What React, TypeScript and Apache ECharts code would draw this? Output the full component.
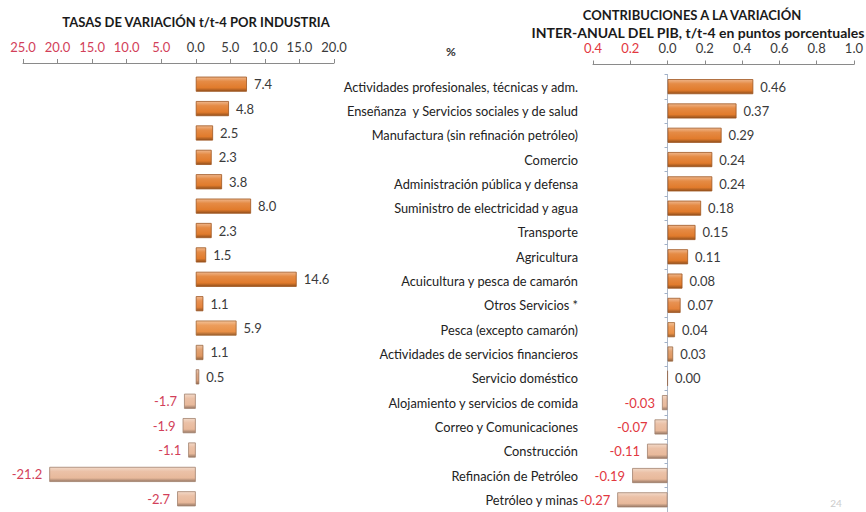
import React, { useEffect, useRef } from "react";
import * as echarts from "echarts";

// ---------- data ----------
const categories = [
  "Actividades profesionales, técnicas y adm.",
  "Enseñanza  y Servicios sociales y de salud",
  "Manufactura (sin refinación petróleo)",
  "Comercio",
  "Administración pública y defensa",
  "Suministro de electricidad y agua",
  "Transporte",
  "Agricultura",
  "Acuicultura y pesca de camarón",
  "Otros Servicios *",
  "Pesca (excepto camarón)",
  "Actividades de servicios financieros",
  "Servicio doméstico",
  "Alojamiento y servicios de comida",
  "Correo y Comunicaciones",
  "Construcción",
  "Refinación de Petróleo",
  "Petróleo y minas",
];

const growthRates = [7.4, 4.8, 2.5, 2.3, 3.8, 8.0, 2.3, 1.5, 14.6, 1.1, 5.9, 1.1, 0.5, -1.7, -1.9, -1.1, -21.2, -2.7];
const contributions = [0.46, 0.37, 0.29, 0.24, 0.24, 0.18, 0.15, 0.11, 0.08, 0.07, 0.04, 0.03, 0.0, -0.03, -0.07, -0.11, -0.19, -0.27];

const leftAxisMin = -25;
const leftAxisMax = 20;
const leftAxisStep = 5;
const rightAxisMin = -0.4;
const rightAxisMax = 1.0;
const rightAxisStep = 0.2;

const leftTitle = "TASAS DE VARIACIÓN t/t-4 POR INDUSTRIA";
const rightTitle1 = "CONTRIBUCIONES A LA VARIACIÓN";
const rightTitle2 = "INTER-ANUAL DEL PIB, t/t-4 en puntos porcentuales";
const midLabel = "%";
const pageNumber = "24";

// ---------- styles ----------
const rowColors = [
  "#E17B2C", "#E17B2C", "#E17B2C", "#E17B2C", "#E17B2C", "#E17B2C",
  "#E17B2C", "#E17B2C", "#E17B2C", "#E4823A", "#E99046", "#DE9660",
  "#DA9E78", "#E8B99B", "#E8B99B", "#E8B99B", "#E8B99B", "#E8B99B",
];
const FONT = "Lato, 'Open Sans', sans-serif";
const NEG_RED_L = "#D23F5A";
const NEG_RED_R = "#E2383F";
const TEXT = "#3a3a3a";

function mix(hex: string, target: number, t: number) {
  const n = parseInt(hex.slice(1), 16);
  const r = (n >> 16) & 255, g = (n >> 8) & 255, b = n & 255;
  const f = (c: number) => Math.round(c + (target - c) * t);
  return `rgb(${f(r)},${f(g)},${f(b)})`;
}

function barFill(hex: string) {
  return new echarts.graphic.LinearGradient(0, 0, 0, 1, [
    { offset: 0, color: mix(hex, 255, 0.45) },
    { offset: 0.3, color: mix(hex, 255, 0.12) },
    { offset: 0.75, color: hex },
    { offset: 1, color: mix(hex, 0, 0.35) },
  ]);
}

function makeData(values: number[], negColor: string) {
  return values.map((v, i) => ({
    value: v,
    itemStyle: {
      color: barFill(rowColors[i]),
      borderColor: mix(rowColors[i], 0, 0.3),
      borderWidth: 0.8,
    },
    label: {
      position: v < 0 ? "left" : "right",
      color: v < 0 ? negColor : TEXT,
    },
  }));
}

export default function App() {
  const ref = useRef<HTMLDivElement>(null);

  useEffect(() => {
    if (!ref.current) return;
    const chart = echarts.init(ref.current, undefined, { renderer: "svg" });

    const axisLabelCommon = {
      fontFamily: FONT,
      fontSize: 13,
      margin: 10,
    };

    chart.setOption({
      animation: false,
      backgroundColor: "#ffffff",
      grid: [
        { left: 23, width: 311, top: 72, height: 439 },
        { left: 593, width: 261, top: 74.5, height: 444 },
      ],
      xAxis: [
        {
          type: "value",
          gridIndex: 0,
          position: "top",
          offset: 9,
          min: leftAxisMin,
          max: leftAxisMax,
          interval: leftAxisStep,
          splitLine: { show: false },
          axisLine: { show: true, lineStyle: { color: "#8a8a8a", width: 1 } },
          axisTick: { show: true, length: 4, lineStyle: { color: "#8a8a8a" } },
          axisLabel: {
            ...axisLabelCommon,
            formatter: (v: number) => Math.abs(v).toFixed(1),
            color: (v: number) => (Number(v) < 0 ? NEG_RED_L : TEXT),
          },
        },
        {
          type: "value",
          gridIndex: 1,
          position: "top",
          offset: 10,
          min: rightAxisMin,
          max: rightAxisMax,
          interval: rightAxisStep,
          splitLine: { show: false },
          axisLine: { show: true, lineStyle: { color: "#8a8a8a", width: 1 } },
          axisTick: { show: true, length: 4, lineStyle: { color: "#8a8a8a" } },
          axisLabel: {
            ...axisLabelCommon,
            formatter: (v: number) => Math.abs(v).toFixed(1),
            color: (v: number) => (Number(v) < -1e-9 ? NEG_RED_R : TEXT),
          },
        },
      ],
      yAxis: [
        {
          type: "category",
          gridIndex: 0,
          inverse: true,
          data: categories,
          axisLine: { show: false },
          axisTick: { show: false },
          axisLabel: { show: false },
          splitLine: { show: false },
        },
        {
          type: "category",
          gridIndex: 1,
          inverse: true,
          data: categories,
          axisLine: { show: true, onZero: true, lineStyle: { color: "#AEB8C8", width: 1 } },
          axisTick: { show: true, length: 3, lineStyle: { color: "#9FB0C8" } },
          axisLabel: {
            show: true,
            margin: 15,
            fontFamily: FONT,
            fontSize: 12.8,
            color: "#222222",
          },
          splitLine: { show: false },
        },
      ],
      series: [
        {
          type: "bar",
          xAxisIndex: 0,
          yAxisIndex: 0,
          barCategoryGap: "38%",
          data: makeData(growthRates, NEG_RED_L),
          label: {
            show: true,
            distance: 7,
            fontFamily: FONT,
            fontSize: 13,
            formatter: (p: any) => Number(p.value).toFixed(1),
          },
        },
        {
          type: "bar",
          xAxisIndex: 1,
          yAxisIndex: 1,
          barCategoryGap: "38%",
          data: makeData(contributions, NEG_RED_R),
          label: {
            show: true,
            distance: 7,
            fontFamily: FONT,
            fontSize: 13,
            formatter: (p: any) => Number(p.value).toFixed(2),
          },
        },
      ],
      graphic: [
        {
          type: "text",
          x: 196,
          y: 22,
          style: {
            text: leftTitle,
            align: "center",
            verticalAlign: "middle",
            fontFamily: FONT,
            fontSize: 13,
            fontWeight: "bold",
            fill: "#1a1a1a",
          },
        },
        {
          type: "text",
          x: 692,
          y: 15,
          style: {
            text: rightTitle1,
            align: "center",
            verticalAlign: "middle",
            fontFamily: FONT,
            fontSize: 13,
            fontWeight: "bold",
            fill: "#1a1a1a",
          },
        },
        {
          type: "text",
          x: 698,
          y: 32,
          style: {
            text: rightTitle2,
            align: "center",
            verticalAlign: "middle",
            fontFamily: FONT,
            fontSize: 14,
            fontWeight: "bold",
            fill: "#1a1a1a",
          },
        },
        {
          type: "text",
          x: 451,
          y: 51,
          style: {
            text: midLabel,
            align: "center",
            verticalAlign: "middle",
            fontFamily: FONT,
            fontSize: 12,
            fontWeight: "bold",
            fill: "#333",
          },
        },
        {
          type: "text",
          x: 836,
          y: 498,
          style: {
            text: pageNumber,
            align: "center",
            verticalAlign: "top",
            fontFamily: FONT,
            fontSize: 10,
            fill: "#cccccc",
          },
        },
      ],
    });

    return () => chart.dispose();
  }, []);

  return (
    <div
      ref={ref}
      style={{ position: "absolute", left: 0, top: 0, width: 866, height: 512 }}
    />
  );
}
